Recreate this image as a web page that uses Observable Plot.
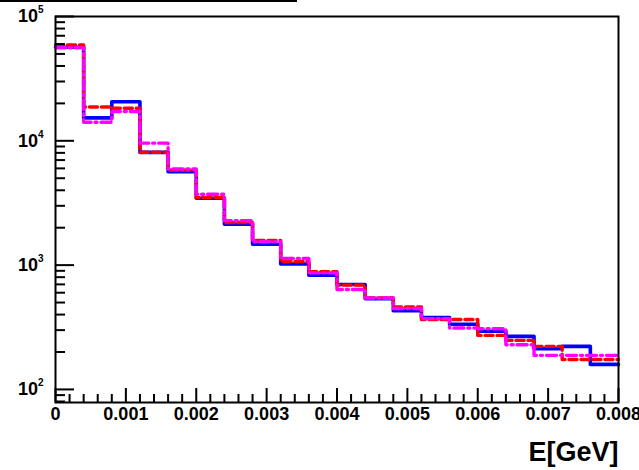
<!DOCTYPE html>
<html><head><meta charset="utf-8">
<script src="https://cdn.jsdelivr.net/npm/d3@7"></script>
<script src="https://cdn.jsdelivr.net/npm/@observablehq/plot@0.6"></script>
<style>
body{margin:0;background:#fff;}
#wrap{position:relative;width:639px;height:470px;overflow:hidden;}
#topline{position:absolute;left:0;top:0;width:297px;height:2px;background:#000;}
</style>
</head><body>
<div id="wrap"><div id="topline"></div><div id="chart"></div></div>
<script>
// bin edges (GeV), 20 bins of width 0.0004, plus the right edge
const binEdges = [0,0.0004,0.0008,0.0012,0.0016,0.002,0.0024,0.0028,0.0032,0.0036,0.004,0.0044,0.0048,0.0052,0.0056,0.006,0.0064,0.0068,0.0072,0.0076,0.008];
// series contents per bin
const blueCounts    = [56500,15300,20600,8070,5650,3450,2130,1470,1020,830,699,538,429,379,334,294,267,213,222,159];
const redCounts     = [59000,18700,18300,8100,5800,3500,2200,1580,1070,884,690,544,461,365,365,272,248,222,174,174];
const magentaCounts = [56000,14100,17200,9580,5940,3720,2280,1540,1130,867,637,544,448,371,312,308,229,188,188,188];
// axis ticks
const xMajor = [0,0.001,0.002,0.003,0.004,0.005,0.006,0.007,0.008];
const xMinor = [0.0002,0.0004,0.0006,0.0008,0.0012,0.0014,0.0016,0.0018,0.0022,0.0024,0.0026,0.0028,0.0032,0.0034,0.0036,0.0038,0.0042,0.0044,0.0046,0.0048,0.0052,0.0054,0.0056,0.0058,0.0062,0.0064,0.0066,0.0068,0.0072,0.0074,0.0076,0.0078];
const xTickLabels = ["0","0.001","0.002","0.003","0.004","0.005","0.006","0.007","0.008"];
const yMajor = [100,1000,10000,100000];
const yMinor = [80,90,200,300,400,500,600,700,800,900,2000,3000,4000,5000,6000,7000,8000,9000,20000,30000,40000,50000,60000,70000,80000,90000];
const yExponents = ["2","3","4","5"];

function steps(counts){
  const rows = counts.map((c,i)=>({x: binEdges[i], y: c}));
  rows.push({x: binEdges[counts.length], y: counts[counts.length-1]});
  return rows;
}

const W = 639, H = 470, mL = 55, mR = 21, mT = 16, mB = 68;
const pw = W - mL - mR, ph = H - mT - mB;

const chart = Plot.plot({
  width: W, height: H,
  marginLeft: mL, marginRight: mR, marginTop: mT, marginBottom: mB,
  style: {fontFamily: "'Liberation Sans', Arial, sans-serif", fontWeight: "bold", background: "#fff"},
  x: {domain: [0, 0.008], axis: null},
  y: {type: "log", domain: [78.5, 100000], axis: null},
  marks: [
    Plot.line(steps(blueCounts), {x: "x", y: "y", curve: "step-after", stroke: "#0000ff", strokeWidth: 3.6}),
    Plot.line(steps(redCounts), {x: "x", y: "y", curve: "step-after", stroke: "#ff0000", strokeWidth: 3.4, strokeDasharray: "8,4"}),
    Plot.line(steps(magentaCounts), {x: "x", y: "y", curve: "step-after", stroke: "#ff00ff", strokeWidth: 3.4, strokeDasharray: "10,4,2,4"}),
    Plot.ruleX(xMajor, {x: d => d, stroke: "#000", strokeWidth: 2, insetTop: ph - 14}),
    Plot.ruleX(xMinor, {x: d => d, stroke: "#000", strokeWidth: 2, insetTop: ph - 8}),
    Plot.ruleY(yMajor, {y: d => d, stroke: "#000", strokeWidth: 2, insetRight: pw - 19}),
    Plot.ruleY(yMinor, {y: d => d, stroke: "#000", strokeWidth: 2, insetRight: pw - 10}),
    Plot.frame({stroke: "#000", strokeWidth: 2}),
    Plot.axisX(xMajor, {tickSize: 0, tickPadding: 5, fontSize: 18, fontWeight: "bold", tickFormat: d => xTickLabels[xMajor.indexOf(d)], label: null}),
    Plot.axisY(yMajor, {tickSize: 0, tickPadding: 12, fontSize: 18, fontWeight: "bold", tickFormat: d => "10^" + yExponents[yMajor.indexOf(d)], label: null}),
    Plot.text(["E[GeV]"], {frameAnchor: "bottom-right", dy: 50, fontSize: 27, fontWeight: "bold", textAnchor: "end", lineAnchor: "middle", fill: "#000"})
  ]
});

// render exponents as superscripts
chart.querySelectorAll('g[aria-label="y-axis tick label"] text').forEach(t => {
  const s = t.textContent;
  if (s.includes("^")) {
    const [base, exp] = s.split("^");
    t.textContent = base;
    const sup = document.createElementNS("http://www.w3.org/2000/svg", "tspan");
    sup.setAttribute("dy", "-9");
    sup.setAttribute("font-size", "10");
    sup.textContent = exp;
    t.appendChild(sup);
  }
});
document.getElementById("chart").appendChild(chart);
</script>
</body></html>
